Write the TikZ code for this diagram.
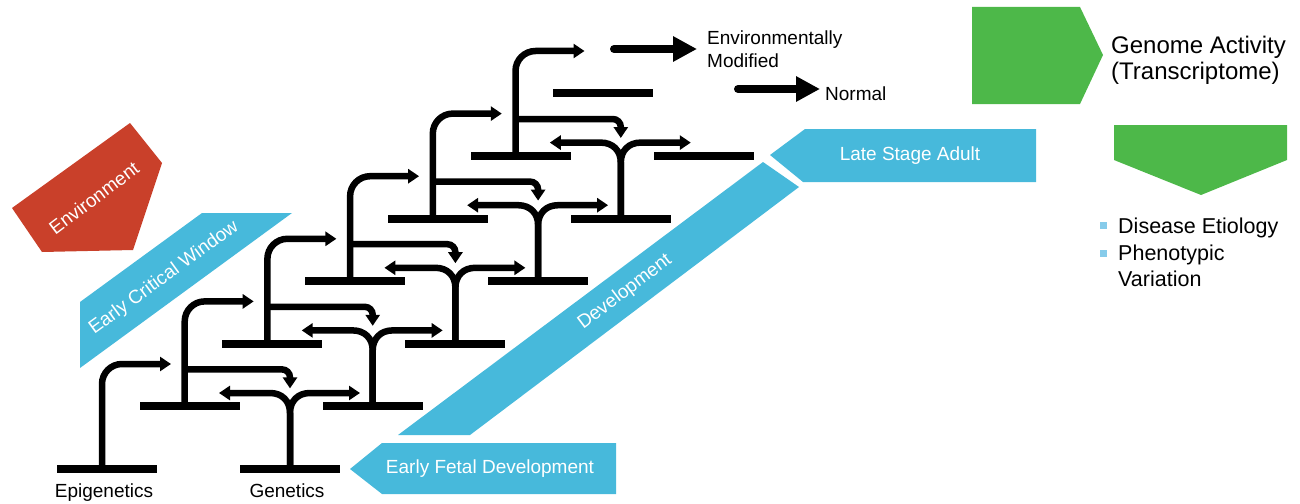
\documentclass[tikz,border=0pt]{standalone}
\usepackage{fontspec}
\setmainfont{Liberation Sans}
\usetikzlibrary{arrows.meta,calc}
\definecolor{cblue}{HTML}{47B9DB}
\definecolor{cred}{HTML}{C9402A}
\definecolor{cgreen}{HTML}{4DB849}
\definecolor{cbullet}{HTML}{86CBEA}
\begin{document}
\begin{tikzpicture}[x=1pt,y=-1pt,
  bar/.style={fill=black,inner sep=0pt,minimum width=100pt,minimum height=8pt},
  ln/.style={line width=6.5pt},
  tipped/.style={-{Triangle[length=11pt,width=14pt]}},
  band/.style={fill=cblue},
  intext/.style={text=white,font=\fontsize{19}{22}\selectfont,inner sep=0pt},
  lbl/.style={text=black,font=\fontsize{19}{22}\selectfont,inner sep=0pt},
  rtext/.style={text=black,font=\fontsize{21.5}{26}\selectfont,inner sep=0pt,anchor=base west},
  big/.style={line width=8pt,line cap=round,-{Triangle[length=24pt,width=24pt]}}
]
\useasboundingbox (0,0) rectangle (1300,503);
% coloured shapes
\fill[cred] (12,208) -- (130,123) -- (162,163) -- (133,250) -- (42,252) -- cycle;
\node[intext,rotate=37] (env) at (94,198) {Environment};
\fill[band] (202,213) -- (292,213) -- (80,368) -- (80,302) -- cycle;
\node[intext,rotate=36] (ecw) at (164,278) {Early Critical Window};
\fill[band] (398,435) -- (470,435) -- (799,187) -- (763,162) -- cycle;
\node[intext,rotate=37] (dev) at (625,292) {Development};
\fill[band] (770,155) -- (805,129) -- (1036,129) -- (1036,182) -- (803,182) -- cycle;
\node[intext] (lsa) at (910,156) {Late Stage Adult};
\fill[band] (350,469) -- (382,443) -- (616,443) -- (616,494) -- (382,494) -- cycle;
\node[intext] (efd) at (490,469) {Early Fetal Development};
\fill[cgreen] (972,7) -- (1080,7) -- (1103,55) -- (1080,104) -- (972,104) -- cycle;
\fill[cgreen] (1114,125) -- (1287,125) -- (1287,160) -- (1201,195) -- (1114,160) -- cycle;
% right texts
\node[rtext,font=\fontsize{24}{28}\selectfont] (ga) at (1111,53) {Genome Activity};
\node[rtext,font=\fontsize{24}{28}\selectfont] (tr) at (1111,79) {(Transcriptome)};
\fill[cbullet] (1100,222) rectangle (1107,229);
\fill[cbullet] (1100,250) rectangle (1107,257);
\node[rtext] (de) at (1118,233) {Disease Etiology};
\node[rtext] (pv) at (1118,260) {Phenotypic};
\node[rtext] (va) at (1118,286) {Variation};
% legend arrows
\node[lbl,anchor=base west] (envm) at (707,45) {Environmentally};
\node[lbl,anchor=base west] (modf) at (707,67) {Modified};
\node[lbl,anchor=base west] (norm) at (825,100) {Normal};
\coordinate (em1) at (614,49);
\coordinate (em2) at (697,49);
\coordinate (nm1) at (738,89);
\coordinate (nm2) at (820,89);
\draw[big] (em1) -- (em2);
\draw[big] (nm1) -- (nm2);
% bars
\foreach \k in {0,...,6}{
  \pgfmathsetmacro\xe{102+82.7*\k}
  \pgfmathsetmacro\yb{469-62.6*\k}
  \node[bar] (e\k) at (\xe+5,\yb) {};
}
\foreach \k in {0,...,5}{
  \pgfmathsetmacro\xg{290+82.7*\k}
  \pgfmathsetmacro\yb{469-62.6*\k}
  \node[bar] (g\k) at (\xg,\yb) {};
}
% epigenetic arrows
\foreach \k in {0,...,5}{
  \coordinate (t\k) at ($(e\k.center)+(64,-105)$);
  \draw[ln,tipped,rounded corners=20pt] ([xshift=-5pt]e\k.center) |- (t\k);
}
\foreach \k in {1,...,5}{
  \pgfmathtruncatemacro\km{\k-1}
  \coordinate (b\k) at ($(g\km.center)+(0,-80.6)$);
  \draw[ln,tipped,rounded corners=8pt] ($(e\k.center)+(-5,-37)$) -| (b\k);
}
% genetic Y splits
\foreach \k in {0,...,4}{
  \coordinate (gl\k) at ($(g\k.center)+(-71,-76)$);
  \coordinate (gr\k) at ($(g\k.center)+(70,-76)$);
  \draw[ln,tipped] (g\k.center) -- ($(g\k.center)+(0,-56)$)
     .. controls ($(g\k.center)+(0,-68)$) and ($(g\k.center)+(-8,-76)$)
     .. ($(g\k.center)+(-20,-76)$) -- (gl\k);
  \draw[ln,tipped] (g\k.center) -- ($(g\k.center)+(0,-56)$)
     .. controls ($(g\k.center)+(0,-68)$) and ($(g\k.center)+(8,-76)$)
     .. ($(g\k.center)+(20,-76)$) -- (gr\k);
}
% bottom labels
\node[lbl,anchor=base] (epi) at (104,497) {Epigenetics};
\node[lbl,anchor=base] (gen) at (287,497) {Genetics};
\end{tikzpicture}
\end{document}
